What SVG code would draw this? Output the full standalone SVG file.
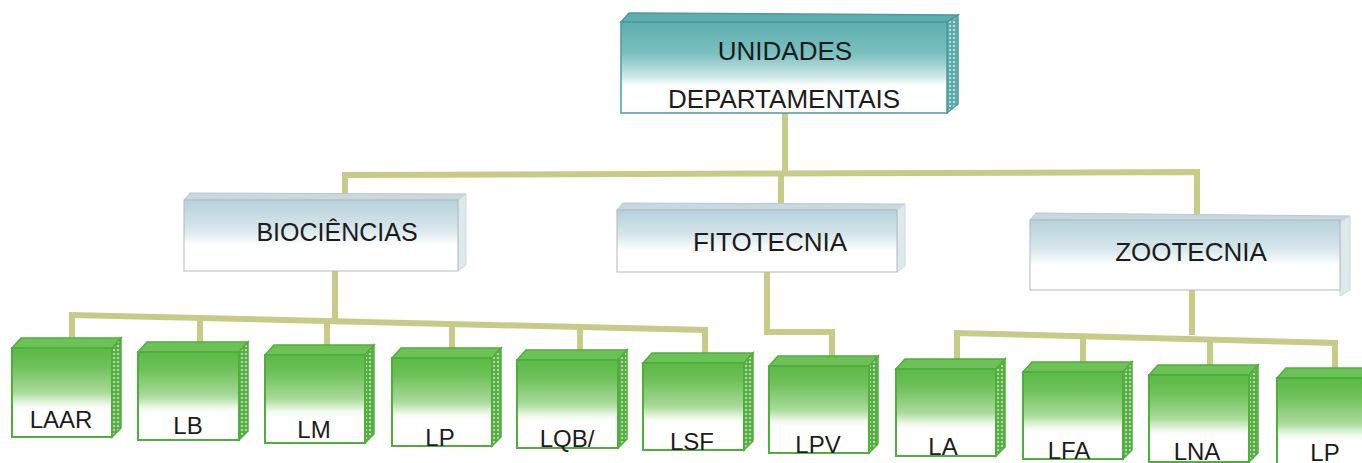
<svg xmlns="http://www.w3.org/2000/svg" width="1362" height="463" viewBox="0 0 1362 463">
<style>
  .lbl{font-family:"Liberation Sans",Arial,sans-serif;fill:#1c1c1c;text-anchor:middle}
  .big{font-size:26px}
  .mid{font-size:25px}
  .sm{font-size:24px}
  .conn{fill:none;stroke:#c6cc88;stroke-width:6;stroke-linejoin:miter}
  .gfront{fill:url(#gGreen);stroke:#4fae3c;stroke-width:2}
  .gtop{fill:#6cc157;stroke:#4fae3c;stroke-width:1.5}
  .gside{fill:url(#dotsG);stroke:#4fae3c;stroke-width:1.5}
  .bfront{fill:url(#gBlue);stroke:#b5b8ba;stroke-width:1}
  .btop{fill:#c4d9e0;stroke:#c0c6c8;stroke-width:1}
  .bside{fill:#dde9ed;stroke:#d0d6d8;stroke-width:1}
</style>
<defs>
  <linearGradient id="gGreen" x1="0" y1="0" x2="0" y2="1">
    <stop offset="0" stop-color="#5cb947"/>
    <stop offset="0.2" stop-color="#6dc158"/>
    <stop offset="0.5" stop-color="#a9da9a"/>
    <stop offset="0.64" stop-color="#f2f9ef"/>
    <stop offset="0.7" stop-color="#ffffff"/>
    <stop offset="1" stop-color="#ffffff"/>
  </linearGradient>
  <linearGradient id="gTeal" x1="0" y1="0" x2="0" y2="1">
    <stop offset="0" stop-color="#5eaeae"/>
    <stop offset="0.35" stop-color="#7cc0c0"/>
    <stop offset="0.6" stop-color="#cfe8e8"/>
    <stop offset="0.7" stop-color="#ffffff"/>
    <stop offset="1" stop-color="#ffffff"/>
  </linearGradient>
  <linearGradient id="gBlue" x1="0" y1="0" x2="0" y2="1">
    <stop offset="0" stop-color="#b7d1da"/>
    <stop offset="0.4" stop-color="#d6e6eb"/>
    <stop offset="0.65" stop-color="#ffffff"/>
    <stop offset="1" stop-color="#ffffff"/>
  </linearGradient>
  <pattern id="dotsG" width="4" height="4" patternUnits="userSpaceOnUse">
    <rect width="4" height="4" fill="#58ad45"/>
    <circle cx="2" cy="2" r="1.1" fill="#c9e8bf"/>
  </pattern>
  <pattern id="dotsT" width="4" height="4" patternUnits="userSpaceOnUse">
    <rect width="4" height="4" fill="#5eaaaa"/>
    <circle cx="2" cy="2" r="1.1" fill="#cde6e6"/>
  </pattern>
</defs>

<g id="connectors">
  <path class="conn" d="M785,112 V173"/>
  <path class="conn" d="M345,197 V175 L1197,172 V214"/>
  <path class="conn" d="M781,173 V204"/>
  <path class="conn" d="M335,271 V320"/>
  <path class="conn" d="M72,339 V315 L705,330 V354"/>
  <path class="conn" d="M200,318 V343"/>
  <path class="conn" d="M327,321 V346"/>
  <path class="conn" d="M452,324 V349"/>
  <path class="conn" d="M580,327 V351"/>
  <path class="conn" d="M767,272 V332 H832 V357"/>
  <path class="conn" d="M1192,290 V335"/>
  <path class="conn" d="M957,360 V333 L1335,343 V369"/>
  <path class="conn" d="M1083,336 V363"/>
  <path class="conn" d="M1210,340 V366"/>
</g>

<g id="unidades">
  <polygon points="621,22 629,13 958,15 947,22" fill="#5eaeae" stroke="#4a9c9c" stroke-width="1.5"/>
  <polygon points="947,22 958,15 958,104 947,113" fill="url(#dotsT)" stroke="#4a9c9c" stroke-width="1.5"/>
  <rect x="621" y="22" width="326" height="91" fill="url(#gTeal)" stroke="#4a9c9c" stroke-width="1.5"/>
  <text class="lbl big" x="785" y="60">UNIDADES</text>
  <text class="lbl big" x="784" y="108">DEPARTAMENTAIS</text>
</g>

<g id="biociencias">
  <polygon class="btop" points="184,200 190,193 466,194 458,200"/>
  <polygon class="bside" points="458,200 466,194 466,265 458,271"/>
  <rect class="bfront" x="184" y="200" width="274" height="71"/>
  <text class="lbl mid" x="337" y="241">BIOCIÊNCIAS</text>
</g>

<g id="fitotecnia">
  <polygon class="btop" points="617,210 623,203 905,204 897,210"/>
  <polygon class="bside" points="897,210 905,204 905,266 897,272"/>
  <rect class="bfront" x="617" y="210" width="280" height="62"/>
  <text class="lbl big" x="770" y="251">FITOTECNIA</text>
</g>

<g id="zootecnia">
  <polygon class="btop" points="1030,220 1036,213 1350,216 1340,222"/>
  <polygon class="bside" points="1340,222 1350,216 1350,290 1340,296"/>
  <rect class="bfront" x="1030" y="220" width="310" height="70"/>
  <text class="lbl big" x="1191" y="261">ZOOTECNIA</text>
</g>

<g id="laar">
  <polygon class="gtop" points="12,348 21,338 121,338 112,348"/>
  <polygon class="gside" points="112,348 121,338 121,428 112,437"/>
  <rect class="gfront" x="12" y="348" width="100" height="89"/>
  <text class="lbl sm" x="61" y="428">LAAR</text>
</g>
<g id="lb">
  <polygon class="gtop" points="138,352 147,342 248,342 239,352"/>
  <polygon class="gside" points="239,352 248,342 248,431 239,440"/>
  <rect class="gfront" x="138" y="352" width="101" height="88"/>
  <text class="lbl sm" x="188" y="434">LB</text>
</g>
<g id="lm">
  <polygon class="gtop" points="265,355 274,345 374,345 365,355"/>
  <polygon class="gside" points="365,355 374,345 374,434 365,443"/>
  <rect class="gfront" x="265" y="355" width="100" height="88"/>
  <text class="lbl sm" x="314" y="438">LM</text>
</g>
<g id="lp1">
  <polygon class="gtop" points="392,358 401,348 501,348 492,358"/>
  <polygon class="gside" points="492,358 501,348 501,437 492,446"/>
  <rect class="gfront" x="392" y="358" width="100" height="88"/>
  <text class="lbl sm" x="440" y="446">LP</text>
</g>
<g id="lqb">
  <polygon class="gtop" points="517,360 526,350 627,350 618,360"/>
  <polygon class="gside" points="618,360 627,350 627,439 618,448"/>
  <rect class="gfront" x="517" y="360" width="101" height="88"/>
  <text class="lbl sm" x="567" y="447">LQB/</text>
</g>
<g id="lsf">
  <polygon class="gtop" points="643,363 652,353 753,353 744,363"/>
  <polygon class="gside" points="744,363 753,353 753,441 744,450"/>
  <rect class="gfront" x="643" y="363" width="101" height="87"/>
  <text class="lbl sm" x="692" y="450">LSF</text>
</g>
<g id="lpv">
  <polygon class="gtop" points="769,366 778,356 878,356 869,366"/>
  <polygon class="gside" points="869,366 878,356 878,444 869,453"/>
  <rect class="gfront" x="769" y="366" width="100" height="87"/>
  <text class="lbl sm" x="818" y="453">LPV</text>
</g>
<g id="la">
  <polygon class="gtop" points="896,369 905,359 1005,359 996,369"/>
  <polygon class="gside" points="996,369 1005,359 1005,447 996,456"/>
  <rect class="gfront" x="896" y="369" width="100" height="87"/>
  <text class="lbl sm" x="943" y="455">LA</text>
</g>
<g id="lfa">
  <polygon class="gtop" points="1023,372 1032,362 1132,362 1123,372"/>
  <polygon class="gside" points="1123,372 1132,362 1132,450 1123,459"/>
  <rect class="gfront" x="1023" y="372" width="100" height="87"/>
  <text class="lbl sm" x="1069" y="459">LFA</text>
</g>
<g id="lna">
  <polygon class="gtop" points="1149,375 1158,365 1258,365 1249,375"/>
  <polygon class="gside" points="1249,375 1258,365 1258,453 1249,462"/>
  <rect class="gfront" x="1149" y="375" width="100" height="87"/>
  <text class="lbl sm" x="1197" y="460">LNA</text>
</g>
<g id="lp2">
  <polygon class="gtop" points="1277,378 1286,368 1386,368 1377,378"/>
  <rect class="gfront" x="1277" y="378" width="100" height="90"/>
  <text class="lbl sm" x="1325" y="461">LP</text>
</g>
</svg>
